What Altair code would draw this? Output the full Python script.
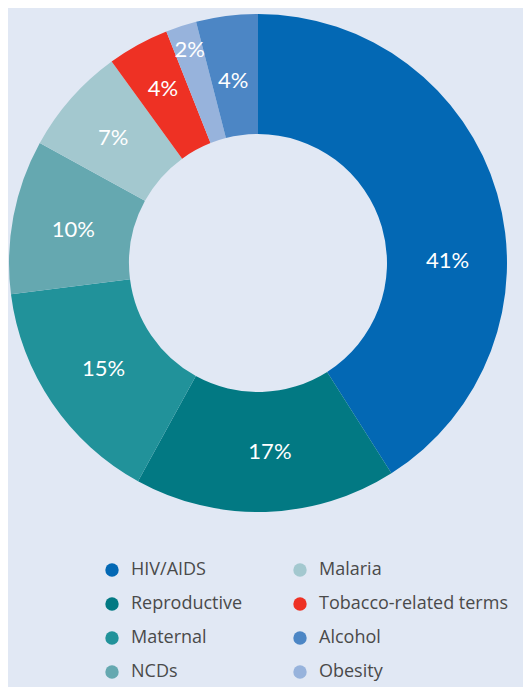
import altair as alt
import pandas as pd

categories = ["HIV/AIDS", "Reproductive", "Maternal", "NCDs", "Malaria",
              "Tobacco-related terms", "Obesity", "Alcohol"]
values = [41, 17, 15, 10, 7, 4, 2, 4]
colors = ["#0368b4", "#027983", "#21929a", "#65a8b0", "#a3c8cf",
          "#ee3124", "#97b3dc", "#4c86c5"]
legend_order = ["HIV/AIDS", "Reproductive", "Maternal", "NCDs",
                "Malaria", "Tobacco-related terms", "Alcohol", "Obesity"]

# label nudges (styling only)
nudges = {
    "HIV/AIDS": (8, 51),
    "Reproductive": (6, 0),
    "Maternal": (2, 0),
    "NCDs": (1, 2),
    "Malaria": (-3, 0),
    "Tobacco-related terms": (-4, -8),
    "Obesity": (-10, -33),
    "Alcohol": (-1, 6),
}

df = pd.DataFrame({
    "category": categories,
    "value": values,
    "order": list(range(len(categories))),
})
df["label"] = df["value"].astype(str) + "%"

BG = "#e1e8f4"
CX, CY = 250, 255

base = alt.Chart(df).encode(
    theta=alt.Theta("value:Q", stack=True),
    order=alt.Order("order:Q", sort="ascending"),
    x=alt.value(CX),
    y=alt.value(CY),
)

arcs = base.mark_arc(outerRadius=249, innerRadius=129, stroke=None).encode(
    color=alt.Color(
        "category:N",
        scale=alt.Scale(domain=categories, range=colors),
        legend=alt.Legend(
            title=None,
            orient="none",
            legendX=95,
            legendY=553,
            columns=2,
            values=legend_order,
            symbolType="circle",
            symbolSize=180,
            symbolStrokeWidth=0,
            labelFontSize=18,
            labelFont="Open Sans",
            labelColor="#4a4a4a",
            labelOffset=10,
            rowPadding=16,
            columnPadding=48,
            labelLimit=300,
        ),
    )
)

layers = [arcs]
for cat, (ddx, ddy) in nudges.items():
    layers.append(
        base.mark_text(radius=189, fontSize=22, font="Lato", color="white", dx=ddx, dy=ddy)
        .encode(
            text="label:N",
            opacity=alt.condition(alt.datum.category == cat, alt.value(1), alt.value(0)),
        )
    )

chart = (
    alt.layer(*layers)
    .properties(
        width=515,
        height=679,
        background=BG,
        padding=0,
        autosize=alt.AutoSizeParams(type="none"),
    )
    .configure_view(stroke=None)
)

chart.save("out.html", embed_options={"renderer": "svg", "actions": False})
